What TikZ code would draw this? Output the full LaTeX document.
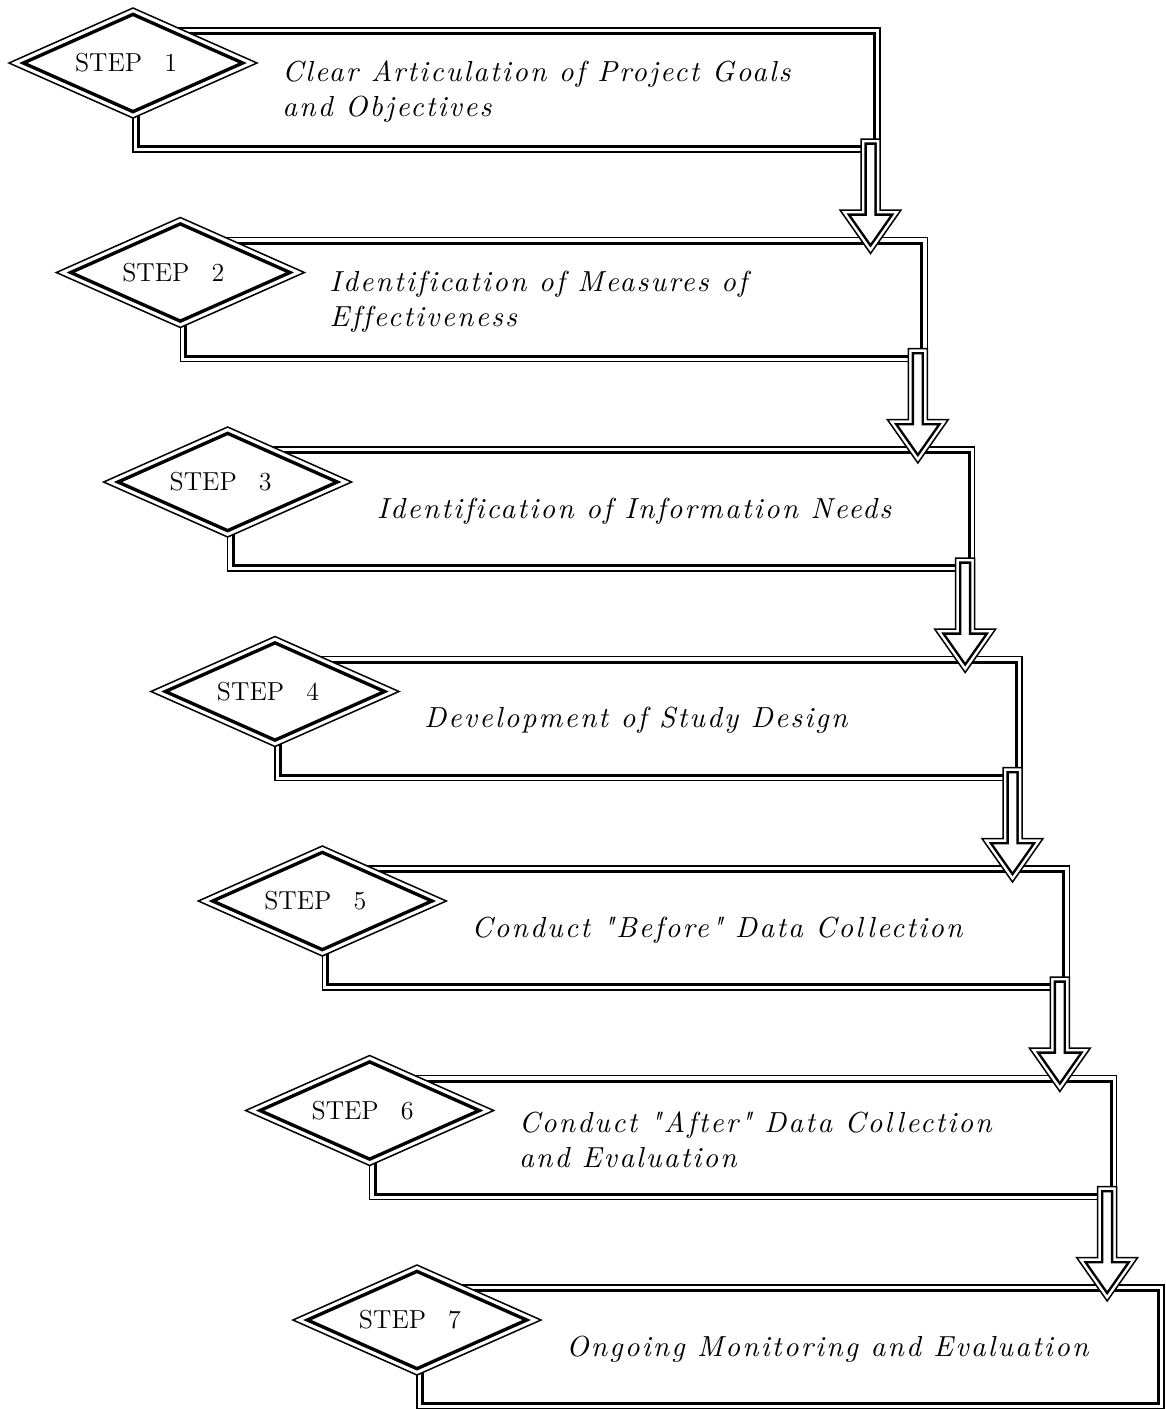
\documentclass[tikz,border=0pt]{standalone}
\usepackage{fontspec}
\usetikzlibrary{calc,shapes.geometric}
\newfontfamily\descfont{lmroman10-italic.otf}[LetterSpace=7.5,Ligatures=CommonOff]
\newcommand\dblshape[3]{%
  \fill[white] #3;
  \begin{scope}
    \clip #3;
    \draw[black,line width=#1,line join=miter] #3;
    \draw[white,line width=#2,line join=miter] #3;
  \end{scope}
  \draw[black,line width=0.75pt,line join=miter] #3;
}
\begin{document}
\begin{tikzpicture}[x=0.5pt,y=-0.5pt,
  boxnode/.style={rectangle,minimum width=373.5pt,minimum height=62pt,inner sep=0pt,outer sep=0pt},
  diamnode/.style={diamond,minimum width=124pt,minimum height=55pt,inner sep=0pt,outer sep=0pt},
  steplabel/.style={font=\fontsize{13}{15}\selectfont,inner sep=0pt},
  desc/.style={anchor=west,align=left,inner sep=0pt,
    font=\fontsize{14.5}{17.5}\selectfont\descfont}]
\useasboundingbox (0,0) rectangle (1166,1409);
\foreach \i in {1,...,7}{
  \pgfmathsetmacro\L{133+47.33*(\i-1)}
  \pgfmathsetmacro\T{28+209.5*(\i-1)}
  \node[boxnode] (b\i) at (\L+373.5,\T+62) {};
  \node[diamnode] (d\i) at (\L,\T+35) {};
}
% boxes
\foreach \i in {1,...,7}{\dblshape{7pt}{4pt}{(b\i.north west) rectangle (b\i.south east)}}
% block arrows from box to box
\foreach \i [evaluate=\i as \j using int(\i+1)] in {1,...,6}{
  \dblshape{5.75pt}{3.25pt}{($(b\i.south east)+(-19,-13)$) -- ($(b\i.south east)+(0,-13)$) -- ($(b\i.south east)+(0,58)$) -- ($(b\i.south east)+(21,58)$) -- ($(b\j.north east)+(-56.8,16)$) -- ($(b\i.south east)+(-40,58)$) -- ($(b\i.south east)+(-19,58)$) -- cycle}
}
% diamonds
\foreach \i in {1,...,7}{\dblshape{7.5pt}{4pt}{(d\i.north) -- (d\i.east) -- (d\i.south) -- (d\i.west) -- cycle}}
% labels
\foreach \i in {1,...,7}{\node[steplabel] (s\i) at ($(d\i)+(-7,0)$) {STEP\hspace{0.85em}\i};}
\foreach \i/\txt in {1/{Clear Articulation of Project Goals\\and Objectives},
  2/{Identification of Measures of\\Effectiveness},
  3/{Identification of Information Needs},
  4/{Development of Study Design},
  5/{Conduct "Before" Data Collection},
  6/{Conduct "After" Data Collection\\and Evaluation},
  7/{Ongoing Monitoring and Evaluation}}{
  \node[desc] (t\i) at ($(b\i.west)+(149,2)$) {\txt};
}
\end{tikzpicture}
\end{document}
